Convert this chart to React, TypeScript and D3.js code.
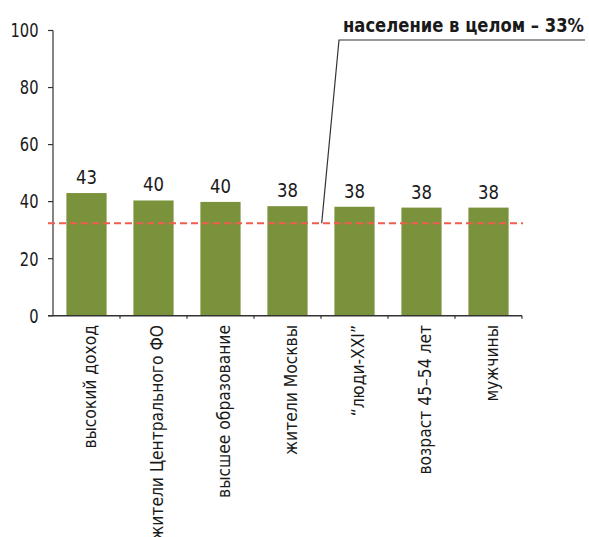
import React from "react";
import * as d3 from "d3";

const categories = [
  "высокий доход",
  "жители Центрального ФО",
  "высшее образование",
  "жители Москвы",
  "“люди-XXI”",
  "возраст 45–54 лет",
  "мужчины",
];
const values = [43, 40.4, 39.9, 38.4, 38.2, 37.9, 37.9];
const yTicks = [0, 20, 40, 60, 80, 100];
const referenceValue = 32.4;
const referenceLabel = "население в целом – 33%";

const W = 589;
const H = 537;
const FONT = "'DejaVu Sans Condensed', 'DejaVu Sans', sans-serif";

export default function App() {
  const x = d3.scaleBand<string>().domain(categories).range([53, 522]).paddingInner(0.4).paddingOuter(0.2);
  const y = d3.scaleLinear().domain([0, 100]).range([315.7, 30.5]);
  const step = x.step();
  const bw = x.bandwidth();
  const refY = y(referenceValue);
  const boundaries = categories.map((c) => (x(c) as number) - x.paddingInner() * step / 2 + step);

  return (
    <svg width={W} height={H} style={{ position: "absolute", left: 0, top: 0, background: "#fff" }}>
      {/* bars */}
      {categories.map((c, i) => (
        <rect key={c} x={x(c)} y={y(values[i])} width={bw} height={y(0) - y(values[i])} fill="#79923b" />
      ))}
      {/* value labels */}
      {categories.map((c, i) => (
        <text key={"v" + c} transform={`translate(${(x(c) as number) + bw / 2},${y(values[i]) - 9}) scale(0.94,1)`}
          textAnchor="middle" fontFamily={FONT} fontSize={19.5} fill="#1a1a1a">{Math.round(values[i])}</text>
      ))}
      {/* y axis */}
      <line x1={53} x2={53} y1={y(100)} y2={y(0)} stroke="#333" strokeWidth={1.2} />
      {yTicks.map((t) => (
        <g key={t}>
          <line x1={48} x2={53} y1={y(t)} y2={y(t)} stroke="#333" strokeWidth={1.2} />
          <text transform={`translate(38.5,${y(t)}) scale(0.86,1)`} dy="0.36em" textAnchor="end"
            fontFamily={FONT} fontSize={19} fill="#1a1a1a">{t}</text>
        </g>
      ))}
      {/* x axis */}
      <line x1={48} x2={522} y1={y(0)} y2={y(0)} stroke="#333" strokeWidth={1.5} />
      {boundaries.map((b, i) => (
        <line key={"t" + i} x1={b} x2={b} y1={y(0)} y2={y(0) + 3} stroke="#333" strokeWidth={1.2} />
      ))}
      {categories.map((c) => {
        const cx = (x(c) as number) + bw / 2 + 9;
        return (
          <text key={"l" + c} transform={`translate(${cx},325) rotate(-90) scale(0.96,1)`} textAnchor="end"
            fontFamily={FONT} fontSize={18} fill="#1a1a1a">{c}</text>
        );
      })}
      {/* reference line */}
      <line x1={48} x2={523} y1={refY} y2={refY} stroke="#ef5d4d" strokeWidth={2} strokeDasharray="7,4" />
      {/* callout */}
      <polyline points={`321.7,${refY} 339,40 585,40`} fill="none" stroke="#333" strokeWidth={1.2} />
      <text x={584} y={32} textAnchor="end" textLength={241} lengthAdjust="spacingAndGlyphs"
        fontFamily={FONT} fontSize={20} fontWeight="bold" fill="#1a1a1a">
        {referenceLabel}
      </text>
    </svg>
  );
}
